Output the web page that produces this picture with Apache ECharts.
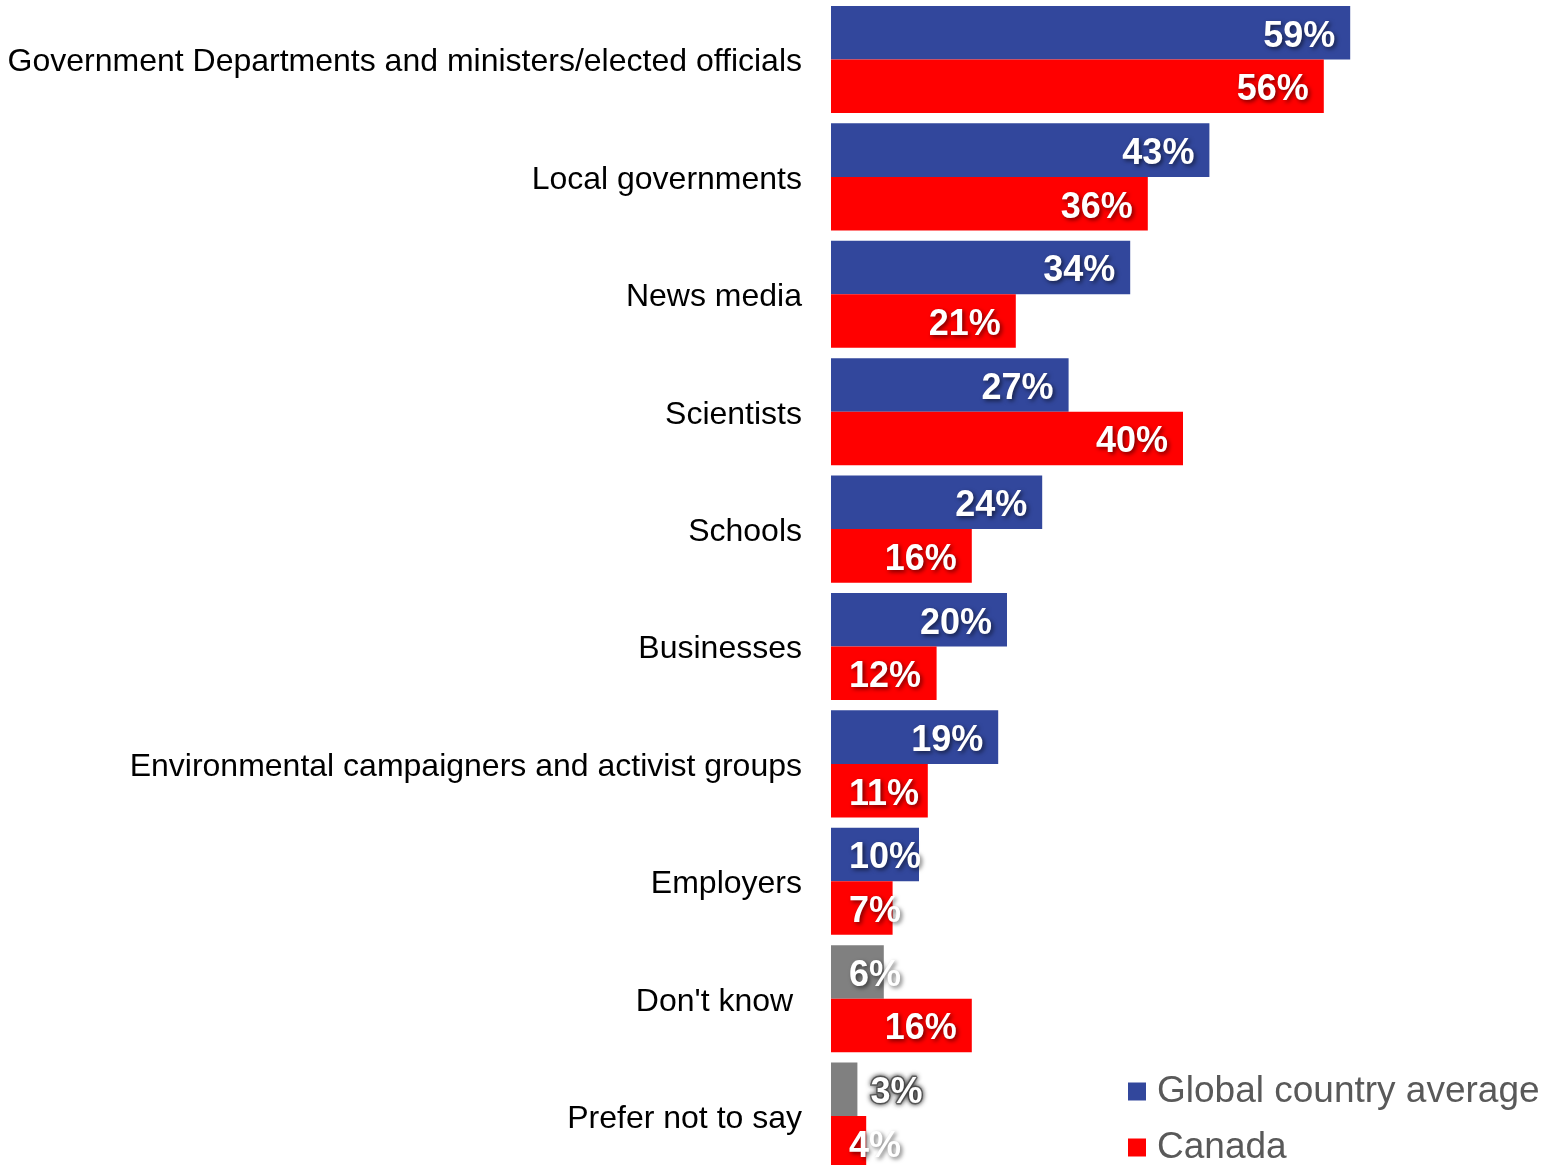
<!DOCTYPE html>
<html>
<head>
<meta charset="utf-8">
<script src="https://cdn.jsdelivr.net/npm/echarts@6/dist/echarts.min.js"></script>
<style>html,body{margin:0;padding:0;background:#fff}#c{width:1567px;height:1165px}</style>
</head>
<body>
<div id="c"></div>
<script>
const categories = [
  "Government Departments and ministers/elected officials",
  "Local governments",
  "News media",
  "Scientists",
  "Schools",
  "Businesses",
  "Environmental campaigners and activist groups",
  "Employers",
  "Don't know ",
  "Prefer not to say"
];
const globalAvg = [59, 43, 34, 27, 24, 20, 19, 10, 6, 3];
const canada = [56, 36, 21, 40, 16, 12, 11, 7, 16, 4];
const greyCategories = ["Don't know ", "Prefer not to say"];
const seriesNames = ['Global country average', 'Canada'];

const BLUE = '#32479c', RED = '#ff0000', GREY = '#808080';
const FONT = '"Liberation Sans", Arial, sans-serif';

const baseLabel = {
  show: true,
  formatter: '{c}%',
  color: '#fff',
  fontFamily: FONT,
  fontWeight: 'bold',
  fontSize: 36,
  offset: [0, 4],
  textShadowColor: 'rgba(0,0,0,0.55)',
  textShadowBlur: 4,
  textShadowOffsetX: 2,
  textShadowOffsetY: 2
};

function labelFor(v) {
  if (v <= 3) return { position: 'right', distance: 13 };
  if (v <= 12) return { position: 'insideLeft', distance: 18 };
  return { position: 'insideRight', distance: 15 };
}

function build(values, useGrey) {
  return values.map((v, i) => {
    const item = { value: v, label: labelFor(v) };
    if (useGrey && greyCategories.includes(categories[i])) {
      item.itemStyle = { color: GREY };
      if (v <= 3) item.label = Object.assign({}, item.label, {
        textBorderColor: 'rgba(90,90,90,0.85)', textBorderWidth: 3,
        textShadowColor: 'rgba(40,40,40,0.9)', textShadowBlur: 5, textShadowOffsetX: 0, textShadowOffsetY: 0
      });
    }
    return item;
  });
}

const legendText = { fontSize: 37, color: '#595959', fontFamily: FONT, lineHeight: 37, padding: [0, 0, 0, 6] };

const chart = echarts.init(document.getElementById('c'), null, { renderer: 'canvas' });
chart.setOption({
  animation: false,
  backgroundColor: '#fff',
  grid: { left: 831, top: 0.8, width: 528, height: 1174, containLabel: false, outerBoundsMode: 'none' },
  xAxis: { type: 'value', min: 0, max: 60, show: false },
  yAxis: {
    type: 'category',
    inverse: true,
    data: categories,
    axisLine: { show: false },
    axisTick: { show: false },
    splitLine: { show: false },
    axisLabel: {
      fontSize: 32, color: '#000', fontFamily: FONT, margin: 29,
      formatter: function (v) { return '{a|' + v + '}'; },
      rich: { a: { fontSize: 32, color: '#000', fontFamily: FONT, padding: [6, 0, 0, 0] } }
    }
  },
  legend: [
    { left: 1123, top: 1068, itemWidth: 18, itemHeight: 18, icon: 'rect', textStyle: legendText, data: [seriesNames[0]] },
    { left: 1123, top: 1124, itemWidth: 18, itemHeight: 18, icon: 'rect', textStyle: legendText, data: [seriesNames[1]] }
  ],
  series: [
    {
      name: seriesNames[0],
      type: 'bar',
      data: build(globalAvg, true),
      itemStyle: { color: BLUE },
      label: baseLabel,
      barGap: '0%',
      barCategoryGap: '8.8%'
    },
    {
      name: seriesNames[1],
      type: 'bar',
      data: build(canada, false),
      itemStyle: { color: RED },
      label: baseLabel,
      barGap: '0%',
      barCategoryGap: '8.8%'
    }
  ]
});
</script>
</body>
</html>
